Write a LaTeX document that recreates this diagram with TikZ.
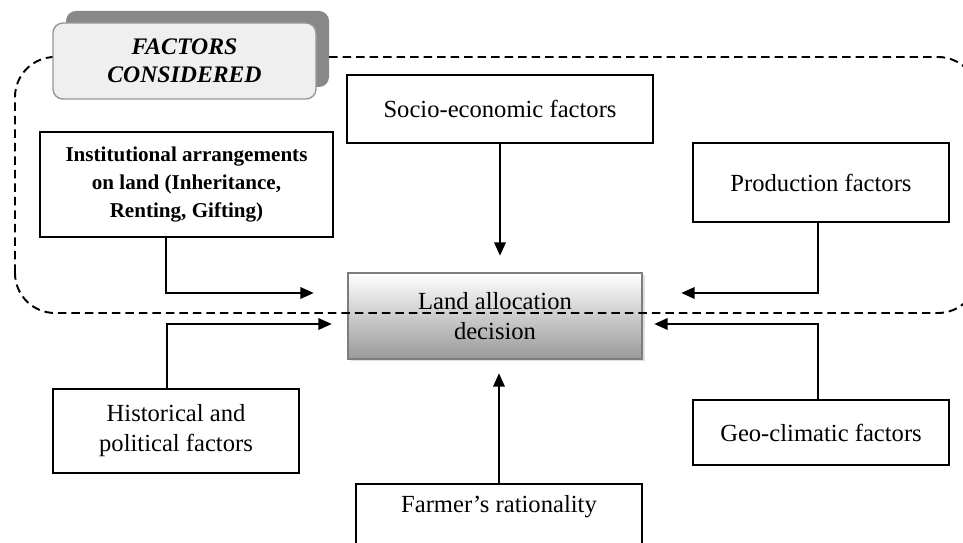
\documentclass[tikz,border=0pt]{standalone}
\usepackage{fontspec}
\setmainfont{Liberation Serif}
\usetikzlibrary{arrows.meta, positioning, shadows}
\definecolor{tabshade}{RGB}{136,136,136}
\definecolor{tabfill}{RGB}{239,239,239}
\definecolor{edgegrey}{RGB}{125,125,125}
\tikzset{
  fbox/.style   = {draw=black, line width=1pt, align=center,
                   font=\fontsize{14}{17}\selectfont, inner sep=0pt},
  arrow/.style  = {-{Triangle[length=0.27cm, width=0.23cm]}, line width=1.25pt},
}

\begin{document}
\begin{tikzpicture}[
    region/.style={dashed, dash pattern=on 0.17cm off 0.1cm, line width=1.1pt,
        rounded corners=0.8cm},
    decision/.style={
        fbox,
        draw=edgegrey,
        line width=1.4pt,
        top color=white,
        bottom color=black!40,
        drop shadow={shadow xshift=0.05cm, shadow yshift=-0.05cm, fill=black!25},
        minimum width=5.88cm,
        minimum height=1.72cm
    },
    tab/.style={
        rounded corners=0.2cm,
        minimum width=5.26cm,
        minimum height=1.52cm,
        align=center,
        font=\fontsize{13.5}{16}\selectfont\bfseries\itshape
    }
]
\useasboundingbox (0,0) rectangle (19.26,10.86);
\clip (0,0) rectangle (19.26,10.86);

% the factors
\node[fbox, minimum width=5.86cm, minimum height=2.1cm,
      font=\fontsize{12}{16}\selectfont\bfseries] (inst) at (3.73,7.17)
      {Institutional arrangements\\on land (Inheritance,\\Renting, Gifting)};
\node[fbox, minimum width=6.12cm, minimum height=1.36cm] (socio) at (10.0,8.68)
      {Socio-economic factors};
\node[fbox, minimum width=5.12cm, minimum height=1.58cm] (prod) at (16.42,7.21)
      {Production factors};
\node[fbox, minimum width=4.92cm, minimum height=1.68cm] (hist) at (3.52,2.24)
      {Historical and\\political factors};
\node[fbox, minimum width=5.12cm, minimum height=1.3cm] (geo) at (16.42,2.21)
      {Geo-climatic factors};
\node[fbox, anchor=north, minimum width=5.72cm, inner ysep=0.24cm,
      text height=0.34cm, text depth=1.6cm] (farmer) at (9.98,1.2)
      {Farmer’s rationality};

% the decision
\node[decision] (land) at (9.9,4.54) {Land allocation\\decision};

% factors considered
\draw[region] (0.3,4.6) rectangle (19.56,9.72);
\node[tab, fill=tabshade] (tabback) at (3.95,9.88) {};
\node[tab, fill=tabfill, draw=edgegrey!80, line width=0.8pt] (tabfront) at (3.69,9.64)
      {FACTORS\\CONSIDERED};

% arrows
\draw[arrow, shorten >=0.32cm] (socio.south) -- (socio.south |- land.north);
\draw[arrow, shorten >=0.26cm] (farmer.north) -- (farmer.north |- land.south);
\foreach \src/\anc/\dx/\dy/\side/\gap in {
    inst/south/-0.41/0.46/west/0.66,
    hist/north/-0.18/-0.16/west/0.3,
    prod/south/-0.06/0.46/east/0.76,
    geo/north/-0.06/-0.16/east/0.22
}{
    \draw[arrow, shorten >=\gap cm] ([xshift=\dx cm]\src.\anc) |- ([yshift=\dy cm]land.\side);
}
\end{tikzpicture}
\end{document}
